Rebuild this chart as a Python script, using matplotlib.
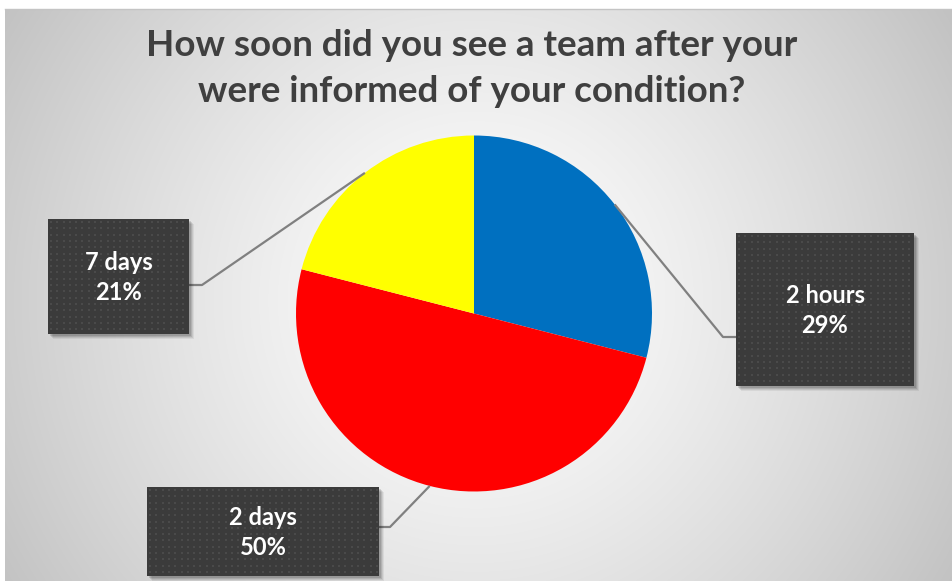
import numpy as np
import matplotlib
matplotlib.use("Agg")
import matplotlib.pyplot as plt
from matplotlib.patches import Rectangle

title_lines = ["How soon did you see a team after your",
               "were informed of your condition?"]
categories = ["2 hours", "2 days", "7 days"]
shares = [29, 50, 21]
pct_labels = ["29%", "50%", "21%"]
colors = ["#0070C0", "#FF0000", "#FFFF00"]

W, H = 952, 581
FONT = ["Lato", "DejaVu Sans"]


def Y(y):
    return H - y


fig = plt.figure(figsize=(W / 100, H / 100), dpi=100)
ax = fig.add_axes([0, 0, 1, 1])

# background radial gradient
yy, xx = np.mgrid[0:H, 0:W]
d = np.hypot(xx - 476, yy - 300)
v = np.clip(255 - 62 * (d / 563) ** 1.3, 0, 255) / 255
rgb = np.dstack([v, v, v])
rgb[:9, :, :] = 1
rgb[:, :5, :] = 1
ax.imshow(rgb, extent=(0, W, 0, H), origin="upper", zorder=0)
ax.plot([5, W], [Y(9), Y(9)], color="#c4c4c4", lw=1, zorder=1)

# pie
cx, cy, R = 474, Y(313.5), 178
wedges, _ = ax.pie(shares, colors=colors, startangle=90, counterclock=False,
                   center=(cx, cy), radius=R,
                   wedgeprops=dict(linewidth=0))
for w in wedges:
    w.set_zorder(2)

# label boxes (image px): x0, y0, x1, y1 ; elbow point ; box attach x
boxes = {
    "2 hours": ((736, 233, 914, 386), (723, 337), 736),
    "2 days": ((147, 487, 379, 576), (390, 527), 379),
    "7 days": ((48, 219, 189, 334), (202, 285), 189),
}

for w, cat, pct in zip(wedges, categories, pct_labels):
    (x0, y0, x1, y1), (ex, ey), bx = boxes[cat]
    th = np.deg2rad((w.theta1 + w.theta2) / 2)
    sx, sy = cx + R * np.cos(th), cy + R * np.sin(th)
    ax.plot([sx, ex, bx], [sy, Y(ey), Y(ey)], color="#808080", lw=1.6,
            zorder=3, solid_capstyle="butt")
    # shadow
    for k, a in [(5, 0.06), (4, 0.08), (3, 0.10), (2, 0.12)]:
        ax.add_patch(Rectangle((x0 + k, Y(y1) - k), x1 - x0, y1 - y0,
                               facecolor="black", alpha=a, lw=0, zorder=3))
    rect = Rectangle((x0, Y(y1)), x1 - x0, y1 - y0, facecolor="#3b3b3b",
                     lw=0, zorder=4)
    ax.add_patch(rect)
    gx, gy = np.meshgrid(np.arange(x0 + 3, x1, 6.3), np.arange(y0 + 3, y1, 6.3))
    sc = ax.scatter(gx.ravel(), Y(gy.ravel()), s=2.6, marker="s",
                    color="#4a4a4a", lw=0, zorder=5)
    sc.set_clip_path(rect)
    ax.text((x0 + x1) / 2, Y((y0 + y1) / 2 + 1), f"{cat}\n{pct}", color="white",
            ha="center", va="center", fontsize=17, fontweight="bold",
            family=FONT, linespacing=1.42, zorder=6)

ax.text(471.5, Y(45), title_lines[0], ha="center", va="center",
        fontsize=26.5, fontweight="bold", color="#3f3f3f", family=FONT, zorder=6)
ax.text(471.5, Y(92), title_lines[1], ha="center", va="center",
        fontsize=26.5, fontweight="bold", color="#3f3f3f", family=FONT, zorder=6)

ax.set_xlim(0, W)
ax.set_ylim(0, H)
ax.set_aspect("auto")
ax.set_axis_off()
fig.savefig("out.png", dpi=100)
